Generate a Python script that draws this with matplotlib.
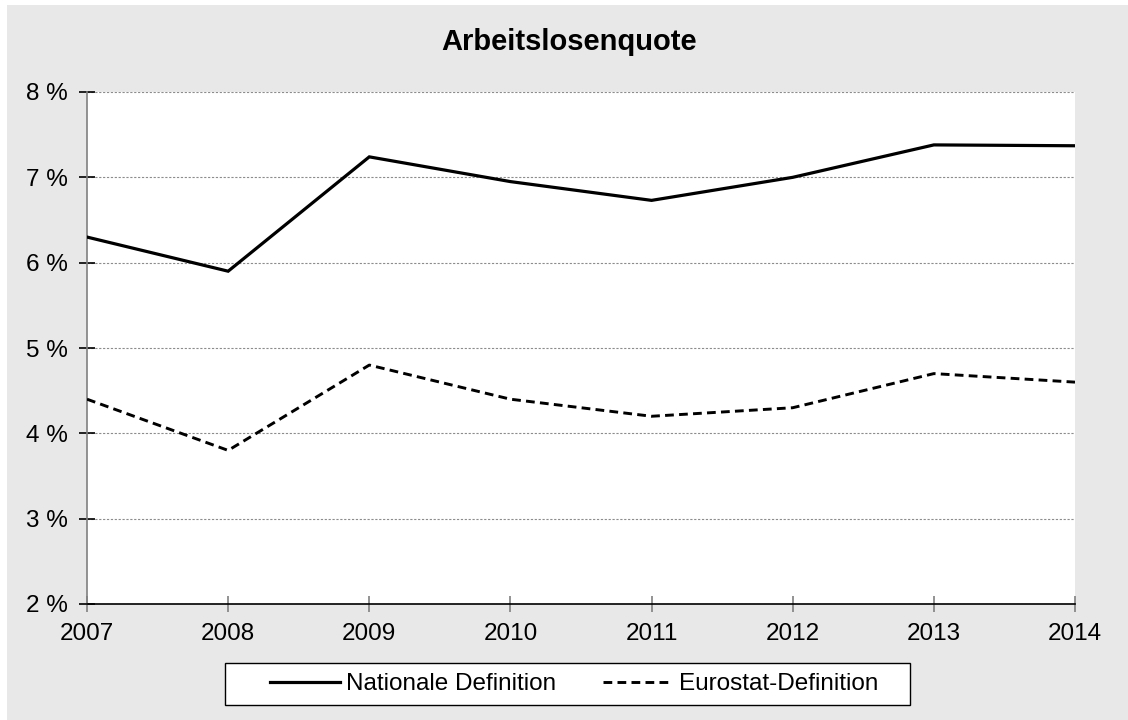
import matplotlib.pyplot as plt
import matplotlib.patches as patches

plt.rcParams['font.family'] = ['Liberation Sans', 'DejaVu Sans']
plt.rcParams['font.size'] = 17.5

# Arbeitslosenquote in %, nationale und Eurostat-Definition
years = [2007, 2008, 2009, 2010, 2011, 2012, 2013, 2014]
national = [6.3, 5.9, 7.24, 6.95, 6.73, 7.0, 7.38, 7.37]
eurostat = [4.4, 3.8, 4.8, 4.4, 4.2, 4.3, 4.7, 4.6]
y_ticks = [2, 3, 4, 5, 6, 7, 8]

W, H = 1128, 720
fig = plt.figure(figsize=(W / 100, H / 100), dpi=100)
fig.patch.set_facecolor('white')

# grey chart area
bg = patches.Rectangle((7 / W, 0), 1 - 7 / W, 1 - 5 / H, transform=fig.transFigure,
                       facecolor='#e8e8e8', edgecolor='none', zorder=-10)
fig.patches.append(bg)

ax = fig.add_axes([87 / W, 1 - 604 / H, (1075 - 87) / W, (604 - 92) / H])
ax.set_facecolor('white')

ax.plot(years, national, color='black', lw=2.3, solid_joinstyle='miter',
        label='Nationale Definition', zorder=3)
ax.plot(years, eurostat, color='black', lw=2.1, dashes=(3.0, 1.8),
        label='Eurostat-Definition', zorder=3)

ax.set_xlim(2007, 2014)
ax.set_ylim(2, 8)
ax.set_xticks(years)
ax.set_yticks(y_ticks)
ax.set_yticklabels([f'{v} %' for v in y_ticks])

ax.yaxis.grid(True, color='#8c8c8c', lw=0.8, ls=(0, (2, 1.5)))
ax.set_axisbelow(True)

ax.spines['top'].set_visible(False)
ax.spines['right'].set_visible(False)
ax.spines['left'].set_color('#808080')
ax.spines['left'].set_linewidth(1.2)
ax.spines['bottom'].set_color('black')
ax.spines['bottom'].set_linewidth(1.2)
ax.tick_params(axis='x', direction='inout', length=11, width=1.2, color='#808080', pad=8)
ax.tick_params(axis='y', direction='inout', length=11, width=1.2, color='black', pad=8)

fig.text(569 / W, 1 - 42 / H, 'Arbeitslosenquote', ha='center', va='center',
         fontsize=21, fontweight='bold')

# legend box
box = patches.Rectangle((225 / W, 1 - 705 / H), 685 / W, 42 / H, transform=fig.transFigure,
                        facecolor='white', edgecolor='black', lw=1.0, zorder=1)
fig.patches.append(box)

leg = fig.legend(loc='center', bbox_to_anchor=(574 / W, 1 - 684 / H),
                 ncol=2, frameon=False, handlelength=2.88, handletextpad=0.25,
                 columnspacing=1.93, borderpad=0.0)
leg.set_zorder(2)

plt.savefig('out.png', dpi=100)
